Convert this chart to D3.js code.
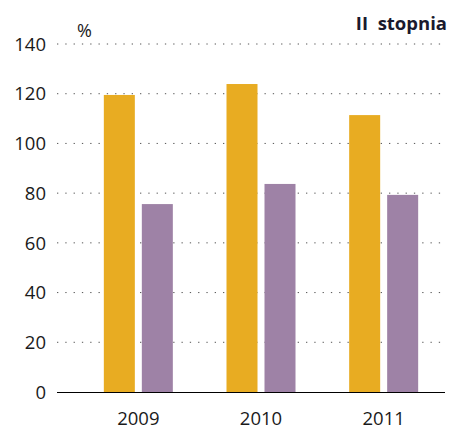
<!DOCTYPE html>
<html>
<head>
<meta charset="utf-8">
<script src="https://d3js.org/d3.v7.min.js"></script>
<style>
  body { margin: 0; background: #fff; }
  text { font-family: "Open Sans", "Liberation Sans", sans-serif; }
</style>
</head>
<body>
<div id="chart"></div>
<script>
const years = ["2009", "2010", "2011"];
const seriesA = [119.5, 123.9, 111.4];   // orange
const seriesB = [75.6, 83.7, 79.3];      // purple
const yTicks = [0, 20, 40, 60, 80, 100, 120, 140];

const W = 450, H = 430;

const svg = d3.select("#chart")
    .append("svg")
    .attr("width", W)
    .attr("height", H);

const x = d3.scaleBand()
    .domain(years)
    .range([77, 445]);

const xs = d3.scaleBand()
    .domain([0, 1])
    .range([0, 69])
    .paddingInner(0.184);

const y = d3.scaleLinear()
    .domain([0, 140])
    .range([392, 44]);

// dotted gridlines
svg.append("g")
    .selectAll("line")
    .data(yTicks.filter(d => d > 0))
    .join("line")
    .attr("x1", 57)
    .attr("x2", 442)
    .attr("y1", d => y(d))
    .attr("y2", d => y(d))
    .attr("stroke", "#555")
    .attr("stroke-width", 1)
    .attr("stroke-dasharray", "1.3,7");

// y labels
svg.append("g")
    .selectAll("text")
    .data(yTicks)
    .join("text")
    .attr("x", 46)
    .attr("y", d => y(d))
    .attr("dy", "0.36em")
    .attr("text-anchor", "end")
    .style("font-size", "18.5px")
    .attr("fill", "#1a1a1a")
    .text(d => d);

// bars
const groups = svg.append("g")
    .selectAll("g")
    .data(years.map((yr, i) => ({yr, vals: [seriesA[i], seriesB[i]]})))
    .join("g")
    .attr("transform", d => `translate(${x(d.yr) + x.bandwidth() / 2 - 34.5},0)`);

groups.selectAll("rect")
    .data(d => d.vals.map((v, k) => ({k, v})))
    .join("rect")
    .attr("x", d => xs(d.k))
    .attr("width", xs.bandwidth())
    .attr("y", d => y(d.v))
    .attr("height", d => y(0) - y(d.v))
    .attr("fill", d => d.k === 0 ? "#e8ac22" : "#9e82a6");

// baseline
svg.append("line")
    .attr("x1", 57)
    .attr("x2", 445)
    .attr("y1", y(0) + 0.5)
    .attr("y2", y(0) + 0.5)
    .attr("stroke", "#000")
    .attr("stroke-width", 1.2);

// x labels
svg.append("g")
    .selectAll("text")
    .data(years)
    .join("text")
    .attr("x", d => x(d) + x.bandwidth() / 2)
    .attr("y", 425)
    .attr("text-anchor", "middle")
    .style("font-size", "18.5px")
    .attr("fill", "#1a1a1a")
    .text(d => d);

svg.append("text")
    .attr("x", 77)
    .attr("y", 37)
    .style("font-size", "18px")
    .attr("fill", "#1a1a1a")
    .text("%");

svg.append("text")
    .attr("x", 447)
    .attr("y", 30)
    .attr("text-anchor", "end")
    .style("font-size", "18.5px")
    .style("font-weight", "bold")
    .style("white-space", "pre")
    .attr("fill", "#1a1a2e")
    .text("II  stopnia");
</script>
</body>
</html>
